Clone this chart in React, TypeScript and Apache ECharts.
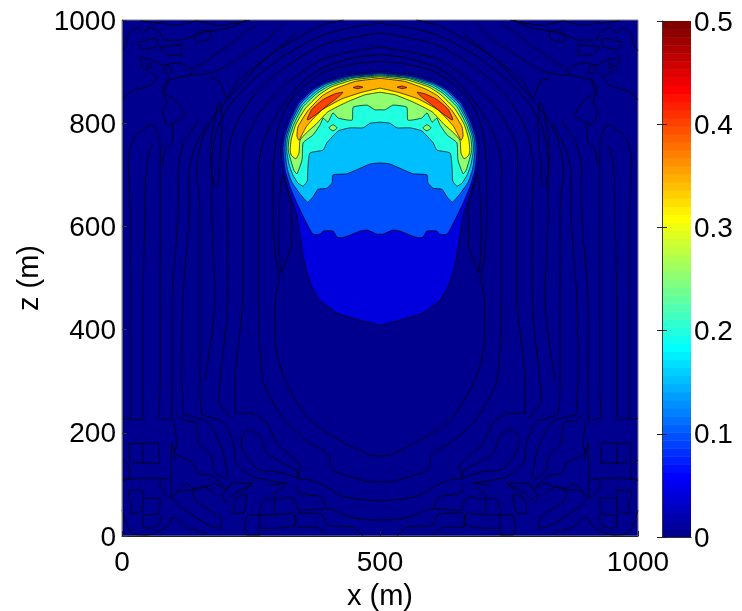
import React, { useEffect, useRef } from "react";
import * as echarts from "echarts";

type P = [number, number];

// Filled-contour levels of the plume (x, z in metres). The picture is mirror-symmetric
// about x = 500, so each outline is read on the left half and reflected when drawn.
const level005: P[] = [[500,901],[438,895],[393,882],[368,868],[339,840],[322,806],[312,777],[308,748],[312,709],[320,680],[329,651],[339,622],[345,583],[351,545],[357,516],[368,483],[384,457],[417,432],[448,422],[500,408]];
const level010: P[] = [[500,898],[440,892],[395,879],[370,865],[342,838],[325,804],[315,775],[312,748],[316,709],[326,676],[339,645],[355,612],[370,585],[384,585],[390,591],[409,591],[417,579],[426,578],[442,583],[461,591],[475,593],[494,585],[500,585]];
const level015: P[] = [[500,896],[442,890],[397,877],[372,863],[345,836],[328,802],[318,773],[316,748],[320,713],[329,686],[345,663],[360,647],[370,657],[380,672],[397,674],[407,684],[409,700],[436,702],[481,721],[500,723]];
const level020: P[] = [[500,894],[444,888],[399,875],[375,860],[348,834],[330,800],[321,773],[319,748],[324,719],[331,700],[341,684],[351,678],[359,688],[360,709],[364,742],[390,748],[397,762],[419,785],[442,791],[467,791],[481,800],[500,802]];
const level025: P[] = [[500,892],[446,887],[401,872],[378,858],[351,832],[333,798],[324,771],[322,748],[328,725],[333,709],[339,702],[349,729],[351,762],[370,777],[384,797],[390,810],[399,802],[409,820],[419,810],[446,806],[448,831],[475,835],[490,826],[500,826]];
const level030: P[] = [[500,890],[448,884],[405,870],[382,855],[355,828],[337,798],[328,769],[326,748],[328,738],[337,731],[343,742],[345,767],[357,781],[376,798],[399,822],[436,841],[471,855],[500,860]];
const level035: P[] = [[500,887],[452,881],[411,866],[388,853],[360,824],[341,793],[339,775],[343,767],[357,793],[368,806],[388,826],[426,847],[465,860],[500,868]];
const level040Patch: P[] = [[359,808],[368,827],[390,846],[413,857],[428,860],[422,853],[399,835],[380,820],[360,806]];
const level040Lens: P[] = [[448,869],[457,872],[467,870],[457,867]];
const level025Island: P[] = [[401,791],[409,797],[417,791],[409,785]];

const levelColors = ["#0000DF","#0050FF","#00BFFF","#20FFDF","#8FFF70","#FFFF00","#FFAF00","#FF4000"];

// Low-level contour lines in the near-zero field (left half, reflected when drawn).
const arc1: P[] = [[500,155],[481,157],[428,182],[364,225],[316,302],[297,380],[297,452],[304,502],[297,548],[293,612],[293,696],[296,748],[302,790],[318,830],[345,865],[395,900],[452,915],[500,920]];
const arc2: P[] = [[500,105],[481,105],[448,114],[409,128],[397,161],[364,180],[320,219],[293,258],[273,302],[264,457],[264,632],[264,709],[273,762],[293,806],[320,845],[349,880],[384,905],[442,925],[500,933]];
const arc3: P[] = [[500,68],[455,72],[422,79],[397,95],[364,109],[341,112],[345,134],[300,180],[281,219],[248,238],[219,238],[219,302],[234,457],[234,632],[233,709],[238,762],[262,812],[293,851],[320,878],[384,922],[442,938],[500,948]];
const arc4: P[] = [[213,228],[187,263],[190,302],[205,457],[205,632],[203,696],[209,762],[225,806],[254,851],[300,897],[384,950],[442,965],[500,975]];
const arc5: P[] = [[161,302],[180,457],[174,632],[174,729],[184,787],[209,835],[254,884],[316,932],[384,969],[442,985],[500,994]];
const arc6: P[] = [[319,102],[254,115],[222,141],[216,180],[196,221],[155,238],[151,302],[151,457],[151,632],[145,709],[155,767],[180,816],[229,874],[287,932],[384,988],[430,1000]];
const spikeLow: P[] = [[308,510],[304,564],[304,612],[306,661],[312,700],[318,680],[328,641],[329,612],[328,564],[308,510]];
const spikeMid: P[] = [[176,690],[171,742],[184,831],[190,839],[194,800],[190,734],[186,684],[180,676],[176,690]];
const innerLoop: P[] = [[233,196],[248,206],[267,193],[281,160],[310,142],[338,126],[341,112],[300,125],[262,130],[232,175],[233,196]];
const column1: P[] = [[16,457],[16,632],[12,729],[25,774],[58,797],[74,762],[74,632],[74,457],[74,302],[72,229],[95,225],[97,302],[97,457],[109,632],[109,709],[122,767],[151,806]];
const column2: P[] = [[16,457],[16,302],[16,229],[41,225],[41,302],[41,457],[45,632],[47,709],[54,748],[60,758]];
const column3: P[] = [[120,235],[116,302],[118,457],[130,632],[130,700],[140,750],[165,800]];
const spine: P[] = [[93,890],[79,864],[87,839],[78,826],[89,797],[99,797],[97,762],[83,748],[78,720]];
const topLine: P[] = [[35,998],[74,994],[107,990],[145,998],[184,990],[223,994],[248,1000]];
const zigzag: P[] = [[0,940],[10,955],[12,971],[29,985],[41,975],[54,986],[74,975],[83,961],[116,961],[132,967],[161,977],[209,985],[240,1000]];
const topLoop1: P[] = [[31,957],[68,965],[70,952],[41,942],[31,957]];
const topLoop2: P[] = [[74,948],[116,952],[116,932],[93,932],[74,948]];
const tangle1: P[] = [[35,928],[60,922],[79,913],[107,917],[136,903],[132,893],[93,884],[83,860],[103,845],[122,816],[93,797]];
const tangle2: P[] = [[35,928],[41,907],[68,888],[54,874],[16,860],[0,845]];
const smallLoop1: P[] = [[79,903],[89,913],[97,899],[83,897],[79,903]];
const smallLoop2: P[] = [[48,913],[54,917],[58,909],[50,907],[48,913]];
const topLoop3: P[] = [[141,971],[157,981],[171,977],[171,965],[145,957],[141,971]];
const diagonal1: P[] = [[136,903],[171,926],[203,948],[238,975],[262,994]];
const diagonal2: P[] = [[132,893],[171,897],[200,909],[242,936],[287,967],[312,994]];
const diagonal3: P[] = [[171,888],[190,880],[203,849],[223,880],[254,907],[300,942],[339,975]];
const gridBox1: P[] = [[15,180],[70,180],[72,141],[45,141],[15,147],[15,180]];
const gridBar1: P[] = [[41,180],[41,141]];
const gridLeft1: P[] = [[0,228],[16,225]];
const gridLeft2: P[] = [[0,147],[15,134],[15,115],[0,108]];
const gridRow1: P[] = [[0,108],[41,112],[74,112],[93,108]];
const gridRun1: P[] = [[74,112],[74,96],[90,76],[96,76],[96,180],[99,176],[103,147]];
const gridBox2: P[] = [[15,89],[41,89],[41,50],[15,44],[19,63],[12,76],[15,89]];
const gridBox3: P[] = [[41,73],[74,73],[72,44],[41,41]];
const gridBox4: P[] = [[41,41],[41,18],[54,15],[74,25],[74,41]];
const gridFloor: P[] = [[0,50],[19,5],[48,2],[87,18],[99,37],[125,18],[164,5]];
const zig1: P[] = [[96,76],[106,83],[122,89],[145,89],[158,96],[184,79]];
const zig2: P[] = [[106,86],[125,102],[138,92],[164,96],[177,102],[203,92],[213,102],[254,102]];
const zig3: P[] = [[138,89],[141,70],[170,50],[190,34],[193,15],[174,18],[151,31],[106,63],[96,79]];
const stair1: P[] = [[103,238],[119,225],[145,218],[148,180],[174,154],[177,128],[203,108]];
const stair2: P[] = [[120,235],[164,222],[187,186],[196,163],[206,112]];
const stair3: P[] = [[100,225],[106,180],[103,163],[138,141],[148,122],[177,115],[196,96]];
const crossLoop1: P[] = [[213,102],[196,79],[200,66],[219,83],[254,102]];
const crossLoop2: P[] = [[216,44],[216,63],[225,76],[242,79],[235,44],[216,44]];
const crossLoop3: P[] = [[242,41],[267,41],[267,2],[242,2],[238,18],[242,41]];
const crossLoop4: P[] = [[267,41],[271,66],[280,73],[293,73],[296,41],[267,41]];
const crossLoop5: P[] = [[296,41],[332,44],[338,25],[300,15],[267,15]];
const lowLine1: P[] = [[293,76],[306,70],[319,76],[335,70],[342,50],[397,53],[442,37],[481,31],[500,31]];
const lowLink1: P[] = [[254,102],[232,83],[225,76]];
const lowLink2: P[] = [[287,99],[319,102],[306,89],[293,79]];
const lowLine2: P[] = [[338,96],[342,83],[384,76],[397,53]];
const floor1: P[] = [[339,45],[388,41],[397,21],[448,17],[467,0]];
const floor2: P[] = [[397,2],[378,17],[339,17],[335,41]];

const lowContours: P[][] = [arc1,arc2,arc3,arc4,arc5,arc6,spikeLow,spikeMid,innerLoop,column1,column2,column3,spine,topLine,zigzag,topLoop1,topLoop2,tangle1,tangle2,smallLoop1,smallLoop2,topLoop3,diagonal1,diagonal2,diagonal3,gridBox1,gridBar1,gridLeft1,gridLeft2,gridRow1,gridRun1,gridBox2,gridBox3,gridBox4,gridFloor,zig1,zig2,zig3,stair1,stair2,stair3,crossLoop1,crossLoop2,crossLoop3,crossLoop4,crossLoop5,lowLine1,lowLink1,lowLink2,lowLine2,floor1,floor2];

// MATLAB jet(64), bottom to top of the colour bar.
const jet64 = ["#00008F","#00009F","#0000AF","#0000BF","#0000CF","#0000DF","#0000EF","#0000FF","#0010FF","#0020FF","#0030FF","#0040FF","#0050FF","#0060FF","#0070FF","#0080FF","#008FFF","#009FFF","#00AFFF","#00BFFF","#00CFFF","#00DFFF","#00EFFF","#00FFFF","#10FFEF","#20FFDF","#30FFCF","#40FFBF","#50FFAF","#60FF9F","#70FF8F","#80FF80","#8FFF70","#9FFF60","#AFFF50","#BFFF40","#CFFF30","#DFFF20","#EFFF10","#FFFF00","#FFEF00","#FFDF00","#FFCF00","#FFBF00","#FFAF00","#FF9F00","#FF8F00","#FF8000","#FF7000","#FF6000","#FF5000","#FF4000","#FF3000","#FF2000","#FF1000","#FF0000","#EF0000","#DF0000","#CF0000","#BF0000","#AF0000","#9F0000","#8F0000","#800000"];

const mirror = (pts: P[]): P[] => pts.map(([x, z]) => [1000 - x, z] as P);
const crescent = (half: P[]): P[] => [...half, ...mirror(half).reverse()];

const fillRegions: { pts: P[]; color: string }[] = [
  ...[level005, level010, level015, level020, level025, level030, level035].map((h, i) => ({ pts: crescent(h), color: levelColors[i] })),
  { pts: level025Island, color: levelColors[4] },
  { pts: mirror(level025Island), color: levelColors[4] },
  { pts: level040Patch, color: levelColors[7] },
  { pts: mirror(level040Patch), color: levelColors[7] },
  { pts: level040Lens, color: levelColors[7] },
  { pts: mirror(level040Lens), color: levelColors[7] },
];

const FONT = "'Liberation Sans', Arial, sans-serif";
const LINE = "rgba(0,0,0,0.85)";
const plain = (v: number) => String(v);

export default function App() {
  const ref = useRef<HTMLDivElement>(null);
  useEffect(() => {
    const chart = echarts.init(ref.current!, undefined, { renderer: "svg" });
    const label = { color: "#000", fontFamily: FONT, fontSize: 28 };
    const title = { color: "#000", fontFamily: FONT, fontSize: 29 };
    const lineSeries = [...lowContours, ...lowContours.map(mirror)].map((pts) => ({
      type: "line" as const,
      data: pts,
      xAxisIndex: 0,
      yAxisIndex: 0,
      symbol: "none",
      silent: true,
      z: 2,
      smooth: 0.25,
      lineStyle: { color: LINE, width: 0.9 },
    }));
    chart.setOption({
      animation: false,
      grid: [
        { left: 122, top: 20, width: 516, height: 516, show: true, backgroundColor: "#00008F", borderColor: "#808080", borderWidth: 1, outerBoundsMode: "none" },
        { left: 662, top: 21, width: 29, height: 516, show: false, outerBoundsMode: "none" },
      ],
      xAxis: [
        {
          gridIndex: 0, type: "value", min: 0, max: 1000, interval: 500, z: 5,
          name: "x (m)", nameLocation: "middle", nameGap: 44, nameTextStyle: title,
          axisLabel: { ...label, margin: 11, formatter: plain },
          axisLine: { lineStyle: { color: "#222", width: 1 } },
          axisTick: { inside: true, length: 5, lineStyle: { color: "#222" } },
          splitLine: { show: false },
        },
        { gridIndex: 1, type: "value", min: 0, max: 1, position: "bottom", z: 5, axisLabel: { show: false }, axisTick: { show: false }, splitLine: { show: false }, axisLine: { lineStyle: { color: "#333" } } },
        { gridIndex: 1, type: "value", min: 0, max: 1, position: "top", z: 5, axisLabel: { show: false }, axisTick: { show: false }, splitLine: { show: false }, axisLine: { lineStyle: { color: "#333" } } },
      ],
      yAxis: [
        {
          gridIndex: 0, type: "value", min: 0, max: 1000, interval: 200, z: 5,
          name: "z (m)", nameLocation: "middle", nameGap: 78, nameTextStyle: title,
          axisLabel: { ...label, margin: 6, formatter: plain },
          axisLine: { lineStyle: { color: "#666", width: 1 } },
          axisTick: { inside: true, length: 5, lineStyle: { color: "#333" } },
          splitLine: { show: false },
        },
        {
          gridIndex: 1, type: "value", min: 0, max: 0.5, interval: 0.1, position: "right", z: 5,
          axisLabel: { ...label, margin: 3 },
          axisLine: { lineStyle: { color: "#999" } },
          axisTick: { inside: true, length: 5, lineStyle: { color: "#222" } },
          splitLine: { show: false },
        },
        {
          gridIndex: 1, type: "value", min: 0, max: 0.5, interval: 0.1, position: "left", z: 5,
          axisLabel: { show: false },
          axisLine: { lineStyle: { color: "#333" } },
          axisTick: { inside: true, length: 5, lineStyle: { color: "#222" } },
          splitLine: { show: false },
        },
      ],
      series: [
        ...lineSeries,
        {
          type: "custom",
          coordinateSystem: "cartesian2d",
          xAxisIndex: 0,
          yAxisIndex: 0,
          silent: true,
          z: 3,
          data: fillRegions.map((_, i) => [i]),
          encode: { x: -1, y: -1 },
          renderItem: (params: any, api: any) => {
            const r = fillRegions[params.dataIndex];
            return {
              type: "polygon",
              shape: { points: r.pts.map((p) => api.coord(p)), smooth: 0.15 },
              style: { fill: r.color, stroke: LINE, lineWidth: 0.8 },
            };
          },
        },
        {
          type: "custom",
          coordinateSystem: "cartesian2d",
          xAxisIndex: 1,
          yAxisIndex: 1,
          silent: true,
          z: 2,
          data: jet64.map((_, i) => [i]),
          encode: { x: -1, y: -1 },
          renderItem: (params: any, api: any) => {
            const i = params.dataIndex;
            const a = api.coord([0, ((i + 1) * 0.5) / 64]);
            const b = api.coord([1, (i * 0.5) / 64]);
            return {
              type: "rect",
              shape: { x: a[0], y: a[1], width: b[0] - a[0], height: b[1] - a[1] + 0.5 },
              style: { fill: jet64[i] },
            };
          },
        },
      ],
    });
    return () => chart.dispose();
  }, []);
  return <div ref={ref} style={{ position: "fixed", left: 0, top: 0, width: 742, height: 611 }} />;
}
